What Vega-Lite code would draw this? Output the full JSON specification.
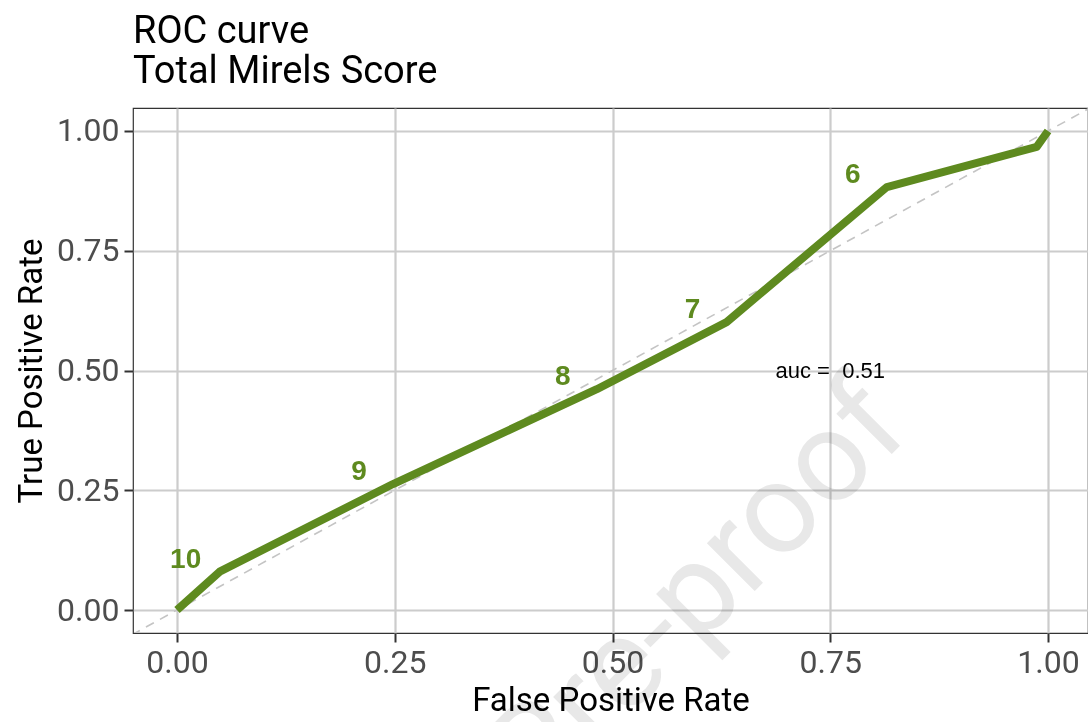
{
  "$schema": "https://vega.github.io/schema/vega-lite/v6.json",
  "autosize": "none",
  "width": 955,
  "height": 525,
  "padding": {"left": 133, "top": 108, "right": 0, "bottom": 89},
  "background": "white",
  "title": {
    "text": ["ROC curve", "Total Mirels Score"],
    "anchor": "start",
    "frame": "group",
    "font": "Roboto",
    "fontSize": 38,
    "fontWeight": "normal",
    "color": "black",
    "lineHeight": 40,
    "offset": 17
  },
  "config": {
    "view": {"stroke": "#333333", "strokeWidth": 1.2},
    "axis": {
      "domain": false,
      "grid": true,
      "gridColor": "#cccccc",
      "gridWidth": 2.2,
      "ticks": true,
      "tickColor": "#333333",
      "tickWidth": 2,
      "tickSize": 9,
      "labelFont": "Roboto",
      "labelFontSize": 32,
      "labelColor": "#4d4d4d",
      "labelPadding": 5,
      "titleFont": "Roboto",
      "titleFontSize": 33,
      "titleFontWeight": "normal",
      "titleColor": "black"
    }
  },
  "datasets": {
    "roc": [
      {"fpr": 0.0, "tpr": 0.0, "cut": ""},
      {"fpr": 0.049, "tpr": 0.080, "cut": "10"},
      {"fpr": 0.248, "tpr": 0.263, "cut": "9"},
      {"fpr": 0.482, "tpr": 0.461, "cut": "8"},
      {"fpr": 0.631, "tpr": 0.601, "cut": "7"},
      {"fpr": 0.815, "tpr": 0.883, "cut": "6"},
      {"fpr": 0.987, "tpr": 0.967, "cut": ""},
      {"fpr": 1.0, "tpr": 1.0, "cut": ""}
    ],
    "diag": [
      {"fpr": -0.1, "tpr": -0.1},
      {"fpr": 1.1, "tpr": 1.1}
    ],
    "auc": [
      {"fpr": 0.75, "tpr": 0.5, "label": "auc = \u00a00.51"}
    ],
    "wm": [
      {"fpr": 0.845, "tpr": 0.37, "label": "Journal Pre-proof"}
    ]
  },
  "encoding": {
    "x": {
      "field": "fpr",
      "type": "quantitative",
      "scale": {"domain": [-0.0505, 1.0459], "nice": false, "zero": false},
      "axis": {"values": [0, 0.25, 0.5, 0.75, 1], "format": ".2f", "title": "False Positive Rate", "titlePadding": 6}
    },
    "y": {
      "field": "tpr",
      "type": "quantitative",
      "scale": {"domain": [-0.048, 1.048], "nice": false, "zero": false},
      "axis": {"values": [0, 0.25, 0.5, 0.75, 1], "format": ".2f", "title": "True Positive Rate", "titlePadding": 8}
    }
  },
  "layer": [
    {
      "data": {"name": "wm"},
      "mark": {"type": "text", "font": "Roboto", "fontSize": 128, "color": "#e8e8e8", "align": "right", "baseline": "alphabetic", "angle": -45, "blend": "multiply"},
      "encoding": {"text": {"field": "label"}}
    },
    {
      "data": {"name": "diag"},
      "mark": {"type": "line", "clip": true, "color": "#c4c4c4", "strokeWidth": 1.6, "strokeDash": [9, 7]},
      "encoding": {}
    },
    {
      "data": {"name": "roc"},
      "mark": {"type": "line", "color": "#5e8a1f", "strokeWidth": 8, "strokeJoin": "round", "strokeCap": "butt"},
      "encoding": {"order": {"field": "fpr"}}
    },
    {
      "data": {"name": "roc"},
      "transform": [{"filter": "datum.cut != ''"}],
      "mark": {"type": "text", "font": "Liberation Sans", "fontWeight": "bold", "fontSize": 28, "color": "#5e8a1f", "dx": -34, "dy": -12},
      "encoding": {"text": {"field": "cut"}}
    },
    {
      "data": {"name": "auc"},
      "mark": {"type": "text", "font": "Liberation Sans", "fontSize": 22, "color": "black"},
      "encoding": {"text": {"field": "label"}}
    }
  ]
}
